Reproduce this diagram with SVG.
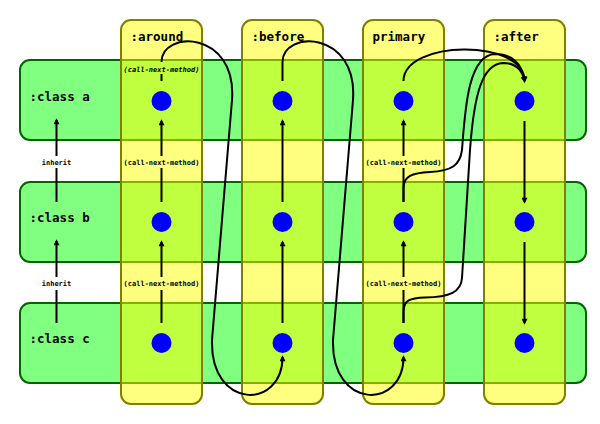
<svg xmlns="http://www.w3.org/2000/svg" width="600" height="424" viewBox="0 0 600 424">
  <defs>
    <style>
      .row { fill: #80ff80; stroke: #006600; stroke-width: 2; }
      .col { fill: #ffff00; fill-opacity: 0.5; stroke: #808000; stroke-width: 2; }
      .dot { fill: #0000ff; }
      .title { font-family: "DejaVu Sans Mono", "Liberation Mono", monospace; font-weight: bold; font-size: 12.5px; fill: #000; }
      .lbl { font-family: "DejaVu Sans Mono", "Liberation Mono", monospace; font-weight: bold; font-size: 7px; fill: #000; text-anchor: middle; }
      .ital { font-style: italic; }
      .ln { fill: none; stroke: #000; stroke-width: 2; }
      .arr { marker-end: url(#ah); }
    </style>
    <marker id="ah" viewBox="0 0 10 10" refX="7" refY="5" markerWidth="7" markerHeight="6" markerUnits="userSpaceOnUse" orient="auto">
      <path d="M0,0 L10,5 L0,10 z" fill="#000"/>
    </marker>
  </defs>

  <!-- class rows -->
  <g id="class-a"><rect class="row" x="20" y="60" width="566" height="80" rx="10"/><text class="title" x="29.5" y="101">:class a</text></g>
  <g id="class-b"><rect class="row" x="20" y="182" width="566" height="80" rx="10"/><text class="title" x="29.5" y="222">:class b</text></g>
  <g id="class-c"><rect class="row" x="20" y="303" width="566" height="80" rx="10"/><text class="title" x="29.5" y="343">:class c</text></g>

  <!-- method-kind columns -->
  <g id="col-around"><rect class="col" x="121" y="20" width="81" height="384" rx="10"/><text class="title" x="130.5" y="41">:around</text></g>
  <g id="col-before"><rect class="col" x="242" y="20" width="81" height="384" rx="10"/><text class="title" x="251.5" y="41">:before</text></g>
  <g id="col-primary"><rect class="col" x="363" y="20" width="81" height="384" rx="10"/><text class="title" x="372.5" y="41">primary</text></g>
  <g id="col-after"><rect class="col" x="484" y="20" width="81" height="384" rx="10"/><text class="title" x="493.5" y="41">:after</text></g>

  <!-- methods -->
  <g id="around-a"><circle class="dot" cx="161.5" cy="101" r="10"/></g>
  <g id="around-b"><circle class="dot" cx="161.5" cy="222" r="10"/></g>
  <g id="around-c"><circle class="dot" cx="161.5" cy="343" r="10"/></g>
  <g id="before-a"><circle class="dot" cx="282.5" cy="101" r="10"/></g>
  <g id="before-b"><circle class="dot" cx="282.5" cy="222" r="10"/></g>
  <g id="before-c"><circle class="dot" cx="282.5" cy="343" r="10"/></g>
  <g id="primary-a"><circle class="dot" cx="403.5" cy="101" r="10"/></g>
  <g id="primary-b"><circle class="dot" cx="403.5" cy="222" r="10"/></g>
  <g id="primary-c"><circle class="dot" cx="403.5" cy="343" r="10"/></g>
  <g id="after-a"><circle class="dot" cx="524.5" cy="101" r="10"/></g>
  <g id="after-b"><circle class="dot" cx="524.5" cy="222" r="10"/></g>
  <g id="after-c"><circle class="dot" cx="524.5" cy="343" r="10"/></g>

  <g id="connectors">
    <!-- inherit -->
    <path class="ln" d="M56.5,202 V168"/>
    <path class="ln arr" d="M56.5,156 V120"/>
    <text class="lbl" x="56.5" y="164.5">inherit</text>
    <path class="ln" d="M56.5,323 V290"/>
    <path class="ln arr" d="M56.5,277 V241"/>
    <text class="lbl" x="56.5" y="285.5">inherit</text>

    <!-- around column -->
    <path class="ln" d="M161.5,323 V290"/>
    <path class="ln arr" d="M161.5,277 V242"/>
    <text class="lbl" x="161.5" y="285.5">(call-next-method)</text>
    <path class="ln" d="M161.5,202 V168"/>
    <path class="ln arr" d="M161.5,156 V121"/>
    <text class="lbl" x="161.5" y="164.5">(call-next-method)</text>
    <path class="ln" d="M161.5,81 V74"/>
    <text class="lbl ital" x="161.5" y="71.5">(call-next-method)</text>
    <path class="ln arr" d="M161.5,62 C161.5,30 237,30 232,100 L212,340 C210,410 282.5,410 282.5,357"/>

    <!-- before column -->
    <path class="ln arr" d="M282.5,323 V242"/>
    <path class="ln arr" d="M282.5,202 V121"/>
    <path class="ln arr" d="M282.5,81 L282.5,62 C282.5,30 358,30 353,100 L333,340 C331,410 403.5,410 403.5,357"/>

    <!-- primary column -->
    <path class="ln" d="M403.5,323 V290"/>
    <path class="ln arr" d="M403.5,277 V242"/>
    <text class="lbl" x="403.5" y="285.5">(call-next-method)</text>
    <path class="ln" d="M403.5,202 V168"/>
    <path class="ln arr" d="M403.5,156 V121"/>
    <text class="lbl" x="403.5" y="164.5">(call-next-method)</text>
    <path class="ln arr" d="M403.5,81 C403.5,40 524.5,38 524.5,81"/>
    <path class="ln arr" d="M403.5,202 L403.5,188 C403.5,176 412,173 430,172 C452,171 460,165 462,150 C465,110 468,55 495,54 C510,54 522,62 524.5,81"/>
    <path class="ln arr" d="M403.5,323 L403.5,312 C403.5,300 410,298 425,297.5 C450,297 461,292 462,278 L470,150 C474,95 482,64 503,63 C514,63 522,68 524.5,81"/>

    <!-- after column -->
    <path class="ln arr" d="M524.5,121 V202"/>
    <path class="ln arr" d="M524.5,242 V323"/>
  </g>
</svg>
